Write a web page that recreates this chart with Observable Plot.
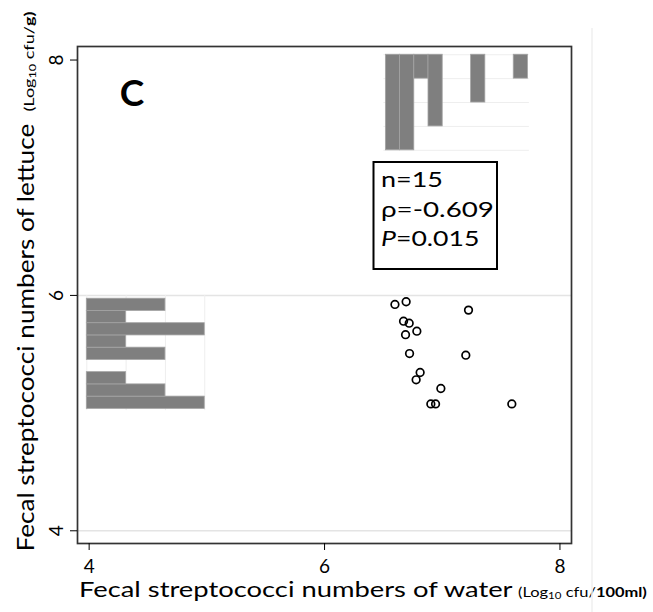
<!DOCTYPE html>
<html>
<head>
<meta charset="utf-8">
<script src="https://cdn.jsdelivr.net/npm/d3@7"></script>
<script src="https://cdn.jsdelivr.net/npm/@observablehq/plot@0.6"></script>
<style>
  html, body { margin: 0; padding: 0; background: #fff; }
  svg { display: block; }
</style>
</head>
<body>
<div id="chart"></div>
<script>
// Fecal streptococci, log10 cfu: water (x) vs lettuce (y), one value per sample
const water   = [6.598, 6.693, 7.223, 6.671, 6.719, 6.784, 6.688, 6.722, 7.200, 6.812, 6.778, 6.988, 6.903, 6.943, 7.591];
const lettuce = [5.923, 5.946, 5.875, 5.781, 5.764, 5.696, 5.666, 5.506, 5.492, 5.345, 5.283, 5.209, 5.078, 5.078, 5.078];

// Marginal histogram of water values (bins left to right)
const waterBinStart = 6.521;
const waterBinWidth = 0.1207;
const waterCounts = [4, 4, 1, 3, 0, 0, 2, 0, 0, 1];

// Marginal histogram of lettuce values (bins bottom to top)
const lettuceBinStart = 5.036;
const lettuceBinWidth = 0.104;
const lettuceCounts = [3, 2, 1, 0, 2, 1, 3, 1, 2];

const xTicks = [4, 6, 8];
const yTicks = [4, 6, 8];
const gridY = [4, 6];

// Correlation summary
const statNames  = ["n", "ρ", "P"];
const statValues = ["15", "-0.609", "0.015"];
const panelLetter = "C";

// Layout of the marginal histograms inside the plot area
const topHistBase = 8.045;   // y value of the hanging baseline
const topHistUnit = 0.203;   // y units per count
const leftHistBase = 3.980;  // x value of the left baseline
const leftHistUnit = 0.334;  // x units per count

const points = water.map((w, i) => ({water: w, lettuce: lettuce[i]}));
const waterBins = waterCounts.map((c, i) => ({
  x1: waterBinStart + i * waterBinWidth,
  x2: waterBinStart + (i + 1) * waterBinWidth,
  count: c
})).filter(d => d.count > 0);
const lettuceBins = lettuceCounts.map((c, i) => ({
  y1: lettuceBinStart + i * lettuceBinWidth,
  y2: lettuceBinStart + (i + 1) * lettuceBinWidth,
  count: c
})).filter(d => d.count > 0);
const topGrid = d3.range(0, d3.max(waterCounts) + 1);
const leftGrid = d3.range(0, d3.max(lettuceCounts) + 1);
const waterHistEnd = waterBinStart + waterCounts.length * waterBinWidth;

const FONT = "Lato, 'Open Sans', sans-serif";
const barFill = "#7f7f7f";
const barEdge = "#a3a3a3";

const chart = Plot.plot({
  width: 653,
  height: 612,
  marginLeft: 77,
  marginRight: 82,
  marginTop: 46,
  marginBottom: 69,
  x: {domain: [3.901, 8.098], label: null},
  y: {domain: [3.892, 8.115], label: null},
  style: {fontFamily: FONT, fontSize: "19px", color: "#000", background: "#fff"},
  marks: [
    Plot.ruleY(gridY, {stroke: "#e4e4e4", strokeWidth: 1.5}),
    // histogram grids
    Plot.ruleY(topGrid, {
      y: c => topHistBase - c * topHistUnit,
      x1: waterBinStart - 0.017, x2: waterHistEnd + 0.012,
      stroke: "#eeeeee", strokeWidth: 1
    }),
    Plot.ruleX(leftGrid, {
      x: c => leftHistBase + c * leftHistUnit,
      y1: lettuceBinStart - 0.015, y2: 6,
      stroke: "#eeeeee", strokeWidth: 1
    }),
    // marginal histograms
    Plot.rect(waterBins, {
      x1: "x1", x2: "x2",
      y1: topHistBase, y2: d => topHistBase - d.count * topHistUnit,
      fill: barFill, stroke: barEdge, strokeWidth: 0.8
    }),
    Plot.rect(lettuceBins, {
      y1: "y1", y2: "y2",
      x1: leftHistBase, x2: d => leftHistBase + d.count * leftHistUnit,
      fill: barFill, stroke: barEdge, strokeWidth: 0.8
    }),
    // scatter
    Plot.dot(points, {x: "water", y: "lettuce", r: 3.8, stroke: "#000", strokeWidth: 1.7, fill: "none"}),
    Plot.frame({stroke: "#333", strokeWidth: 1.7}),
    Plot.axisX({ticks: xTicks, tickFormat: d3.format("d"), tickSize: 7, tickPadding: 9, fontSize: 19, stroke: "#000"}),
    Plot.axisY({ticks: yTicks, tickFormat: d3.format("d"), tickSize: 7, tickPadding: 8, tickRotate: -90, fontSize: 19, stroke: "#000"})
  ]
});

document.getElementById("chart").appendChild(chart);
const svg = d3.select(chart);

// Text stretched along its own direction to a given length
function stretchedText({x, y, rotate = 0, length, parts}) {
  const g = svg.append("g").attr("transform", `translate(${x},${y}) rotate(${rotate})`);
  const inner = g.append("g");
  const t = inner.append("text")
    .attr("font-family", FONT)
    .attr("text-anchor", "start")
    .attr("fill", "#000");
  parts.forEach(p => {
    const s = t.append("tspan").attr("font-size", p.size).text(p.text);
    if (p.bold) s.attr("font-weight", "bold");
    if (p.italic) s.attr("font-style", "italic");
    if (p.dy) s.attr("dy", p.dy);
  });
  const w = t.node().getComputedTextLength();
  inner.attr("transform", `scale(${length / w},1)`);
}

function unitParts(unit, size) {
  return [
    {text: "(Log", size},
    {text: "10", size: size * 0.7, dy: 2},
    {text: " cfu/", size, dy: -2},
    {text: unit, size, bold: true}
  ];
}

// x axis title
stretchedText({x: 79, y: 597, length: 434,
  parts: [{text: "Fecal streptococci numbers of water", size: 21}]});
stretchedText({x: 518, y: 597, length: 129, parts: unitParts("100ml)", 14)});

// y axis title
stretchedText({x: 34, y: 551.5, rotate: -90, length: 428,
  parts: [{text: "Fecal streptococci numbers of lettuce", size: 23}]});
stretchedText({x: 34, y: 111.5, rotate: -90, length: 100, parts: unitParts("g)", 14)});

// panel letter
svg.append("text")
  .attr("x", 132).attr("y", 105.5)
  .attr("text-anchor", "middle")
  .attr("font-family", FONT).attr("font-weight", "bold").attr("font-size", 37)
  .attr("fill", "#000")
  .text(panelLetter);

// statistics box
svg.append("rect")
  .attr("x", 373.5).attr("y", 162).attr("width", 123.5).attr("height", 107)
  .attr("fill", "#fff").attr("stroke", "#000").attr("stroke-width", 2);
const statBaselines = [186.5, 217, 245.5];
const statLengths = [62, 113, 98.5];
statNames.forEach((name, i) => {
  stretchedText({x: 381, y: statBaselines[i], length: statLengths[i], parts: [
    {text: name, size: 22, italic: name === "P"},
    {text: "=" + statValues[i], size: 22}
  ]});
});

// faint page edge on the right
svg.append("line")
  .attr("x1", 592).attr("x2", 592).attr("y1", 28).attr("y2", 612)
  .attr("stroke", "#efefef").attr("stroke-width", 1.5);
</script>
</body>
</html>
